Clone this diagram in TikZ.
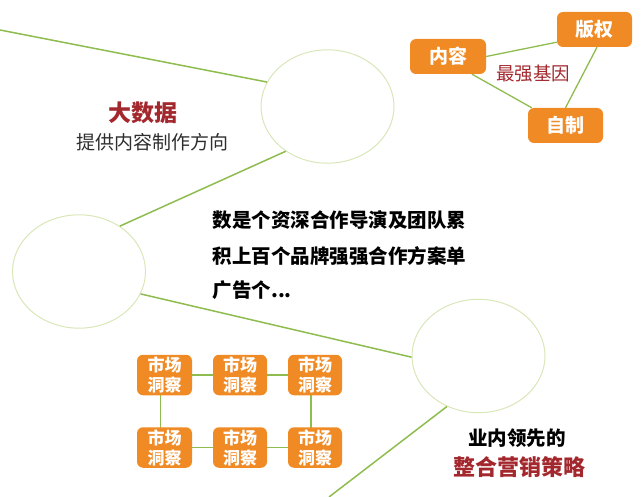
\documentclass[tikz,border=0pt]{standalone}
\usepackage{fontspec}
\setmainfont{Noto Sans CJK SC}
\usetikzlibrary{shapes.geometric}
\definecolor{obox}{HTML}{F08A24}
\definecolor{dred}{HTML}{A3282E}
\definecolor{gline}{HTML}{8FBC4E}
\definecolor{pale}{HTML}{D8E6B8}
\definecolor{dgray}{HTML}{2E2E2E}
\pgfdeclarelayer{bg}
\pgfsetlayers{bg,main}
\begin{document}
\begin{tikzpicture}[x=1pt,y=-1pt,
  bubble/.style={ellipse,draw=pale,line width=1pt,minimum width=133pt,minimum height=113.4pt,inner sep=0pt},
  link/.style={draw=gline,line width=1.5pt},
  boxlink/.style={draw=gline,line width=1.3pt},
  obx/.style={fill=obox,rounded corners=6pt,text=white,inner sep=0pt,font=\bfseries\fontsize{19}{22}\selectfont},
  mbx/.style={fill=obox,rounded corners=6pt,text=white,inner sep=0pt,minimum width=54pt,minimum height=40.5pt,align=center,font=\bfseries\fontsize{17}{20}\selectfont},
  txt/.style={inner sep=0pt,anchor=west,font=\bfseries\fontsize{19.5}{22}\selectfont}]
\useasboundingbox (0,0) rectangle (643,497);
% circles
\node[bubble] (c1) at (327.5,106.5) {};
\node[bubble] (c2) at (79,271.5) {};
\node[bubble] (c3) at (478.5,356) {};
\coordinate (tl) at (0,30);
\coordinate (bl) at (329,497);
\draw[link] (tl) -- (c1.158);
\draw[link] (c1.227) -- (c2.48.7);
\draw[link] (c2.340.6) -- (c3.181);
\draw[link] (c3.238.3) -- (bl);
% top right triangle
\node[obx,minimum width=76pt,minimum height=35pt] (nr) at (448,56.5) {内容};
\node[obx,minimum width=75pt,minimum height=35pt] (bq) at (594.5,29.5) {版权};
\node[obx,minimum width=75pt,minimum height=35pt] (zz) at (565.5,125.5) {自制};
\node[inner sep=0pt,text=dred,font=\fontsize{18.5}{22}\selectfont] (zq) at (533,74) {最强基因};
\begin{pgfonlayer}{bg}
\draw[boxlink] (nr.east) -- ([yshift=5pt]bq.south west);
\draw[boxlink] ([xshift=24pt]nr.south) -- ([xshift=4pt]zz.north west);
\draw[boxlink] ([xshift=2.5pt]bq.south) -- (zz.north);
\end{pgfonlayer}
% big data text
\node[inner sep=0pt,text=dred,font=\bfseries\fontsize{23}{26}\selectfont] (dsj) at (143,113) {大数据};
\node[inner sep=0pt,text=dgray,font=\fontsize{19}{22}\selectfont] (tg) at (152,142) {提供内容制作方向};
% main text
\node[txt] (t1) at (212.5,220.5) {数是个资深合作导演及团队累};
\node[txt] (t2) at (212.5,256.5) {积上百个品牌强强合作方案单};
\node[txt] (t3) at (212.5,290.5) {广告个...};
% grid
\node[mbx,minimum width=55pt] (m11) at (164.5,375) {市场\\洞察};
\node[mbx] (m12) at (240,375) {市场\\洞察};
\node[mbx] (m13) at (315,375) {市场\\洞察};
\node[mbx,minimum width=55pt] (m21) at (164.5,447.5) {市场\\洞察};
\node[mbx] (m22) at (240,447.5) {市场\\洞察};
\node[mbx] (m23) at (315,447.5) {市场\\洞察};
\begin{pgfonlayer}{bg}
\draw[boxlink] (m11) -- (m12);
\draw[boxlink] (m12) -- (m13);
\draw[boxlink] (m21) -- (m22);
\draw[boxlink] (m22) -- (m23);
\draw[boxlink] ([xshift=-4pt]m11.center) -- ([xshift=-4pt]m21.center);
\draw[boxlink] ([xshift=-4pt]m13.center) -- ([xshift=-4pt]m23.center);
\end{pgfonlayer}
% bottom right text
\node[inner sep=0pt,font=\bfseries\fontsize{19.5}{22}\selectfont] (yn) at (517,438) {业内领先的};
\node[inner sep=0pt,text=dred,font=\bfseries\fontsize{22}{25}\selectfont] (zh) at (519.5,467) {整合营销策略};
\end{tikzpicture}
\end{document}
